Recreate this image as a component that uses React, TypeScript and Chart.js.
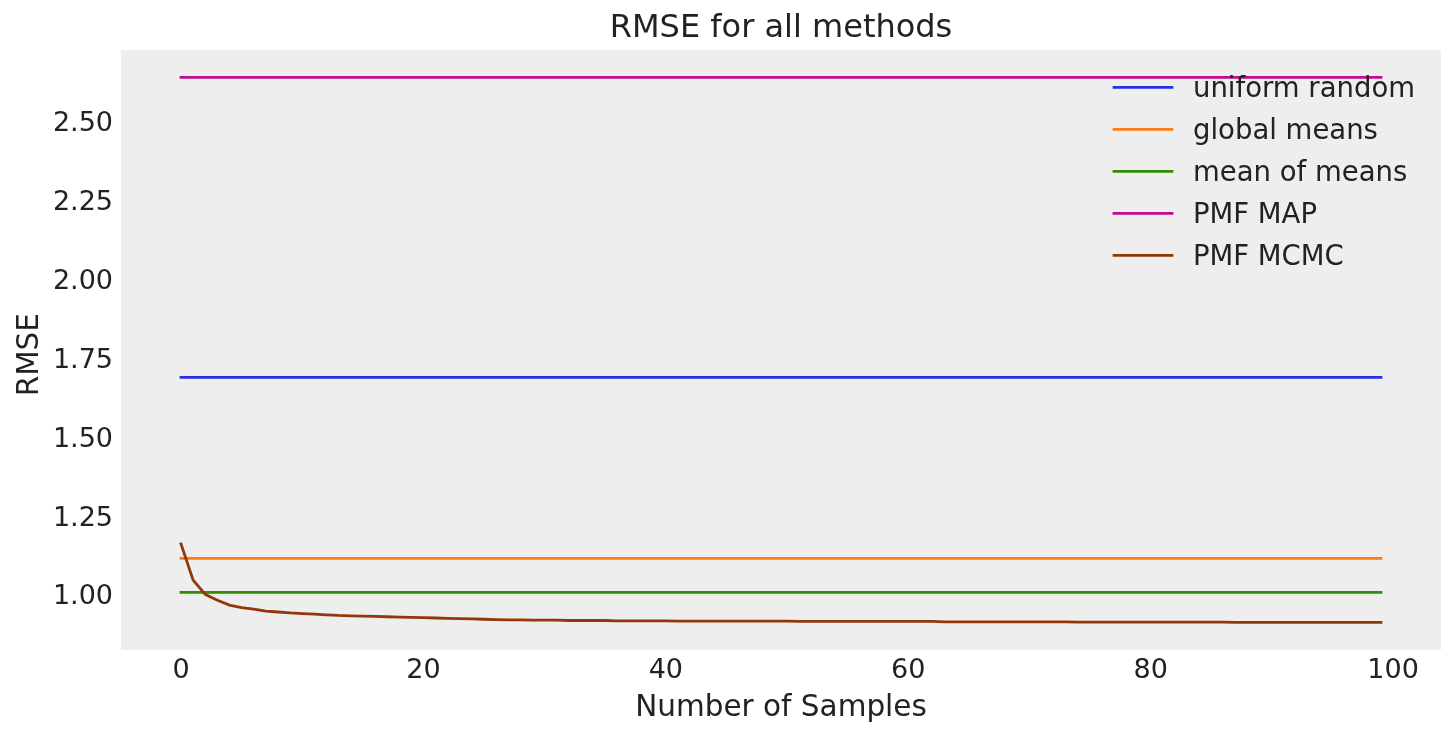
import { useEffect, useRef } from "react";
import { Chart, registerables } from "chart.js";

Chart.register(...registerables);

// method names in plot order
const methods = ["uniform random", "global means", "mean of means", "PMF MAP", "PMF MCMC"];
const colors = ["#2a2eec", "#fa7c17", "#328c06", "#c10c90", "#933708"];

// constant baselines (same value for every sample count)
const firstSample = 0;
const lastSample = 99;
const baselineRmse = [1.6884, 1.1143, 1.0065, 2.6399];

// PMF MCMC running RMSE, samples 0..99
const mcmcRmse = [
  1.160, 1.045, 1.000, 0.981, 0.966, 0.958, 0.953, 0.947, 0.944, 0.941,
  0.939, 0.937, 0.935, 0.933, 0.932, 0.931, 0.930, 0.929, 0.928, 0.927,
  0.926, 0.925, 0.924, 0.923, 0.922, 0.921, 0.920, 0.919, 0.919, 0.918,
  0.918, 0.918, 0.917, 0.917, 0.917, 0.917, 0.916, 0.916, 0.916, 0.916,
  0.916, 0.915, 0.915, 0.915, 0.915, 0.915, 0.915, 0.915, 0.915, 0.915,
  0.915, 0.914, 0.914, 0.914, 0.914, 0.914, 0.914, 0.914, 0.914, 0.914,
  0.914, 0.914, 0.914, 0.913, 0.913, 0.913, 0.913, 0.913, 0.913, 0.913,
  0.913, 0.913, 0.913, 0.913, 0.912, 0.912, 0.912, 0.912, 0.912, 0.912,
  0.912, 0.912, 0.912, 0.912, 0.912, 0.912, 0.912, 0.911, 0.911, 0.911,
  0.911, 0.911, 0.911, 0.911, 0.911, 0.911, 0.911, 0.911, 0.911, 0.911,
];

const xTicks = [0, 20, 40, 60, 80, 100];
const yTicks = [1.0, 1.25, 1.5, 1.75, 2.0, 2.25, 2.5];

const FONT = "'DejaVu Sans', sans-serif";
const TEXT = "#222222";

const backgroundPlugin = {
  id: "plotBackground",
  beforeDraw(chart: any) {
    const { ctx, chartArea } = chart;
    ctx.save();
    ctx.fillStyle = "#ffffff";
    ctx.fillRect(0, 0, chart.width, chart.height);
    ctx.fillStyle = "#eeeeee";
    ctx.fillRect(chartArea.left, chartArea.top, chartArea.right - chartArea.left, chartArea.bottom - chartArea.top);
    ctx.restore();
  },
};

// matplotlib-style legend inside the axes, upper right, no frame
const legendPlugin = {
  id: "innerLegend",
  afterDatasetsDraw(chart: any) {
    const { ctx, chartArea } = chart;
    const lineX0 = chartArea.right - 327;
    const lineX1 = chartArea.right - 269;
    const textX = chartArea.right - 248;
    ctx.save();
    ctx.font = `27.5px ${FONT}`;
    ctx.textAlign = "left";
    ctx.textBaseline = "alphabetic";
    chart.data.datasets.forEach((ds: any, i: number) => {
      const y = chartArea.top + 37.3 + i * 42;
      ctx.strokeStyle = ds.borderColor;
      ctx.lineWidth = 2.8;
      ctx.lineCap = "square";
      ctx.beginPath();
      ctx.moveTo(lineX0, y);
      ctx.lineTo(lineX1, y);
      ctx.stroke();
      ctx.fillStyle = TEXT;
      ctx.fillText(ds.label, textX, y + 10);
    });
    ctx.restore();
  },
};

export default function App() {
  const canvasRef = useRef<HTMLCanvasElement | null>(null);

  useEffect(() => {
    if (!canvasRef.current) return;

    const datasets = methods.map((name, i) => {
      const data =
        i < baselineRmse.length
          ? [
              { x: firstSample, y: baselineRmse[i] },
              { x: lastSample, y: baselineRmse[i] },
            ]
          : mcmcRmse.map((v, k) => ({ x: k, y: v }));
      return {
        label: name,
        data,
        borderColor: colors[i],
        backgroundColor: colors[i],
        borderWidth: 2.8,
        borderCapStyle: "square" as const,
        pointRadius: 0,
        tension: 0,
        fill: false,
        order: methods.length - i,
      };
    });

    const chart = new Chart(canvasRef.current.getContext("2d")!, {
      type: "line",
      data: { datasets },
      options: {
        animation: false,
        responsive: false,
        devicePixelRatio: 1,
        layout: { padding: { top: 0, right: 15, bottom: 0, left: 0 } },
        plugins: {
          legend: { display: false },
          tooltip: { enabled: false },
          title: {
            display: true,
            text: "RMSE for all methods",
            fullSize: false,
            color: TEXT,
            font: { family: FONT, size: 32, weight: "normal", lineHeight: 1 },
            padding: { top: 12.5, bottom: 5.5 },
          },
        },
        scales: {
          x: {
            type: "linear",
            min: -4.95,
            max: 103.95,
            grid: { display: false, drawTicks: false },
            border: { display: false },
            ticks: {
              color: TEXT,
              padding: 4.5,
              font: { family: FONT, size: 27, lineHeight: 1.2 },
            },
            title: {
              display: true,
              text: "Number of Samples",
              color: TEXT,
              font: { family: FONT, size: 29.5, lineHeight: 1.2 },
              padding: { top: 0, bottom: 9.8 },
            },
            afterBuildTicks: (scale: any) => {
              scale.ticks = xTicks.map((value) => ({ value }));
            },
            afterFit: (scale: any) => {
              scale.height = 86;
            },
          },
          y: {
            type: "linear",
            min: 0.8235,
            max: 2.7265,
            grid: { display: false, drawTicks: false },
            border: { display: false },
            ticks: {
              color: TEXT,
              padding: 8,
              // 6px line pitch with an empty first line nudges each label 3px down
              font: { family: FONT, size: 27, lineHeight: "6px" },
              callback: (v: any) => ["", Number(v).toFixed(2)],
            },
            title: {
              display: true,
              text: "RMSE ",
              color: TEXT,
              font: { family: FONT, size: 29.5, lineHeight: 1.2 },
              padding: { top: 12.5, bottom: 0 },
            },
            afterBuildTicks: (scale: any) => {
              scale.ticks = yTicks.map((value) => ({ value }));
            },
            afterFit: (scale: any) => {
              scale.width = 121;
            },
          },
        },
      },
      plugins: [backgroundPlugin, legendPlugin],
    });

    return () => {
      chart.destroy();
    };
  }, []);

  return (
    <div style={{ position: "absolute", left: 0, top: 0, width: 1456, height: 736 }}>
      <canvas ref={canvasRef} width={1456} height={736} />
    </div>
  );
}
